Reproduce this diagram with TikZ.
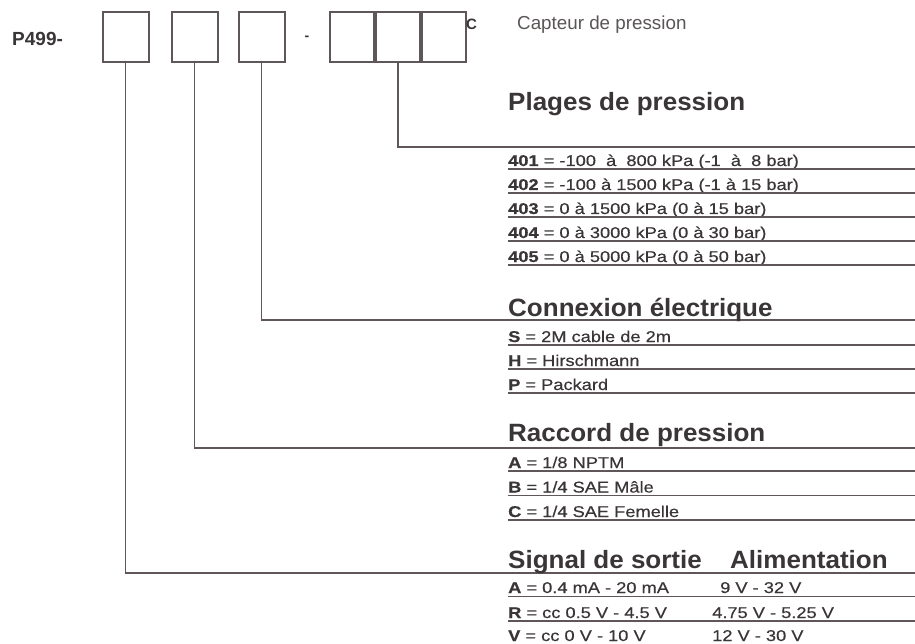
\documentclass[tikz,border=0pt]{standalone}
\usepackage{fontspec}
\setmainfont{Liberation Sans}
\newfontfamily\headfont[FakeStretch=1.04]{Liberation Sans}
\newfontfamily\rowfont[FakeStretch=1.17,FakeBold=0.4]{Liberation Sans}
\usetikzlibrary{positioning}
\definecolor{Ink}{HTML}{3A3536}
\definecolor{Wire}{HTML}{5E5658}
\definecolor{Grey}{HTML}{5A5656}
\tikzset{
  digit/.style={draw=Wire,line width=2pt,minimum width=46pt,minimum height=50pt,inner sep=0pt},
  cell/.style={digit,minimum width=44pt},
  title/.style={anchor=base west,inner sep=0pt,text=Ink,font=\headfont\bfseries\fontsize{25}{28}\selectfont},
  entry/.style={anchor=base west,inner sep=0pt,text=Ink,font=\rowfont\fontsize{15.6}{18}\selectfont},
  wire/.style={draw=Wire,line width=1.4pt},
  rule/.style={draw=Wire,line width=1.7pt}
}
\begin{document}
\begin{tikzpicture}[x=1pt,y=-1pt]
  \useasboundingbox[fill=white] (0,0) rectangle (915,644);
  % code boxes
  \node[anchor=base west,inner sep=0pt,text=Ink,font=\bfseries\fontsize{19}{22}\selectfont] (code) at (12,46) {P499-};
  \node[digit] (b1) at (125.5,37) {};
  \node[digit] (b2) at (194.5,37) {};
  \node[digit] (b3) at (261.5,37) {};
  \node[inner sep=0pt,text=Ink,font=\bfseries\fontsize{14}{16}\selectfont] (dash) at (307,38) {-};
  \node[cell] (g1) at (352,37) {};
  \node[cell,right=0pt of g1] (g2) {};
  \node[cell,right=0pt of g2] (g3) {};
  \node[anchor=base west,inner sep=0pt,text=Ink,font=\bfseries\fontsize{15}{17}\selectfont] (suffix) at (466,30) {C};
  \node[anchor=base west,inner sep=0pt,text=Grey,font=\fontsize{18.8}{22}\selectfont] (name) at (517,30) {Capteur de pression};
  % ends of the connectors
  \coordinate (pend) at (915,147);
  \coordinate (cend) at (915,320);
  \coordinate (rend) at (915,448);
  \coordinate (send) at (915,573);
  \draw[wire] (g2.south) |- (pend);
  \draw[wire] (b3.south) |- (cend);
  \draw[wire] (b2.south) |- (rend);
  \draw[wire] (b1.south) |- (send);
  % Plages de pression
  \node[title] (plages) at (508,111) {Plages de pression};
  \node[entry] (p401) at (508,166) {\textbf{401} = -100\ \ à\ \ 800 kPa (-1\ \ à\ \ 8 bar)};
  \node[entry] (p402) at (508,190) {\textbf{402} = -100 à 1500 kPa (-1 à 15 bar)};
  \node[entry] (p403) at (508,214) {\textbf{403} = 0 à 1500 kPa (0 à 15 bar)};
  \node[entry] (p404) at (508,238) {\textbf{404} = 0 à 3000 kPa (0 à 30 bar)};
  \node[entry] (p405) at (508,262) {\textbf{405} = 0 à 5000 kPa (0 à 50 bar)};
  \foreach \y in {169,193,217,241,265} \draw[rule] (508,\y) -- (915,\y);
  % Connexion electrique
  \node[title] (conn) at (508,316) {Connexion électrique};
  \node[entry] (cs) at (508,342) {\textbf{S} = 2M cable de 2m};
  \node[entry] (ch) at (508,366) {\textbf{H} = Hirschmann};
  \node[entry] (cp) at (508,390) {\textbf{P} = Packard};
  \foreach \y in {345,369,393} \draw[rule] (508,\y) -- (915,\y);
  % Raccord de pression
  \node[title] (racc) at (508,441) {Raccord de pression};
  \node[entry] (ra) at (508,468) {\textbf{A} = 1/8 NPTM};
  \node[entry] (rb) at (508,492.5) {\textbf{B} = 1/4 SAE Mâle};
  \node[entry] (rc) at (508,517) {\textbf{C} = 1/4 SAE Femelle};
  \foreach \y in {471,495.5,520} \draw[rule] (508,\y) -- (915,\y);
  % Signal de sortie / Alimentation
  \node[title] (signal) at (508,568) {Signal de sortie};
  \node[title] (alim) at (730,568) {Alimentation};
  \node[entry] (sa) at (508,593) {\textbf{A} = 0.4 mA - 20 mA};
  \node[entry] (sr) at (508,618) {\textbf{R} = cc 0.5 V - 4.5 V};
  \node[entry] (sv) at (508,641) {\textbf{V} = cc 0 V - 10 V};
  \node[entry] (va) at (720,593) {9 V - 32 V};
  \node[entry] (vr) at (712,618) {4.75 V - 5.25 V};
  \node[entry] (vv) at (712,641) {12 V - 30 V};
  \foreach \y in {596.5,621} \draw[rule] (508,\y) -- (915,\y);
\end{tikzpicture}
\end{document}
